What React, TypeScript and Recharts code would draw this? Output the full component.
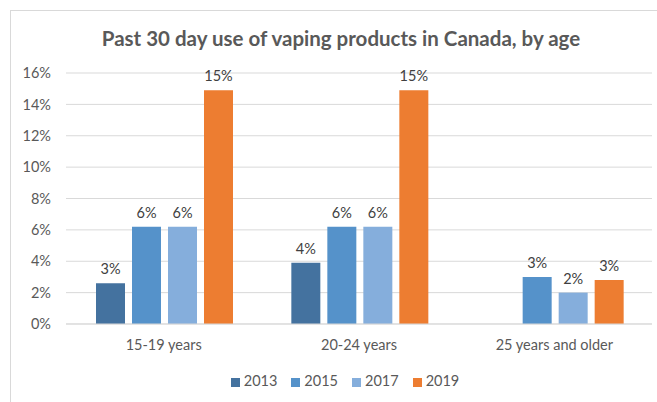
import React from 'react';
import { BarChart, Bar, XAxis, YAxis, CartesianGrid, Legend, LabelList } from 'recharts';

const ageGroups = ['15-19 years', '20-24 years', '25 years and older'];
const use2013 = [2.6, 3.9, null];
const use2015 = [6.2, 6.2, 3.0];
const use2017 = [6.2, 6.2, 2.0];
const use2019 = [14.9, 14.9, 2.8];
const yTicks = [0, 2, 4, 6, 8, 10, 12, 14, 16];

const data = ageGroups.map((age, i) => ({
  age,
  y2013: use2013[i],
  y2015: use2015[i],
  y2017: use2017[i],
  y2019: use2019[i],
}));

const series = [
  { key: 'y2013', name: '2013', color: '#44729F' },
  { key: 'y2015', name: '2015', color: '#5592CA' },
  { key: 'y2017', name: '2017', color: '#85AEDC' },
  { key: 'y2019', name: '2019', color: '#ED7D31' },
];

const font = 'Lato, "Liberation Sans", sans-serif';

const pct = (v: any) => (v == null ? '' : `${Math.round(Number(v))}%`);

const App = () => {
  return (
    <div style={{ position: 'absolute', left: 0, top: 0, width: 657, height: 402, overflow: 'hidden', background: '#fff', fontFamily: font }}>
      <div style={{ position: 'absolute', left: 10, top: 10, width: 700, height: 450, border: '1px solid #d9d9d9' }} />
      <div style={{ position: 'absolute', left: 0, top: 26, width: 682, textAlign: 'center', fontSize: 20.5, fontWeight: 700, color: '#595959' }}>
        Past 30 day use of vaping products in Canada, by age
      </div>
      <div style={{ position: 'absolute', left: 0, top: 0 }}>
        <BarChart
          width={657}
          height={402}
          data={data}
          margin={{ top: 73, right: 5, bottom: 13, left: 8 }}
          barCategoryGap={30}
          barGap={7}
        >
          <CartesianGrid vertical={false} stroke="#d9d9d9" />
          <XAxis
            dataKey="age"
            axisLine={{ stroke: '#d9d9d9' }}
            tickLine={false}
            tickMargin={10}
            height={48}
            tick={{ fill: '#595959', fontSize: 14.5, fontFamily: font }}
          />
          <YAxis
            domain={[0, 16]}
            ticks={yTicks}
            width={58}
            axisLine={false}
            tickLine={false}
            tickMargin={9}
            tickFormatter={(v) => `${v}%`}
            tick={{ fill: '#595959', fontSize: 14.5, fontFamily: font }}
          />
          <Legend
            iconType="square"
            iconSize={9}
            wrapperStyle={{ fontSize: 14.5, fontFamily: font, color: '#595959', paddingLeft: 22 }}
            formatter={(value) => <span style={{ color: '#595959', paddingRight: 4 }}>{value}</span>}
          />
          {series.map((s) => (
            <Bar key={s.key} dataKey={s.key} name={s.name} fill={s.color} isAnimationActive={false}>
              <LabelList
                dataKey={s.key}
                position="top"
                offset={9}
                formatter={pct}
                style={{ fill: '#404040', fontSize: 14.5, fontFamily: font }}
              />
            </Bar>
          ))}
        </BarChart>
      </div>
    </div>
  );
};

export default App;
